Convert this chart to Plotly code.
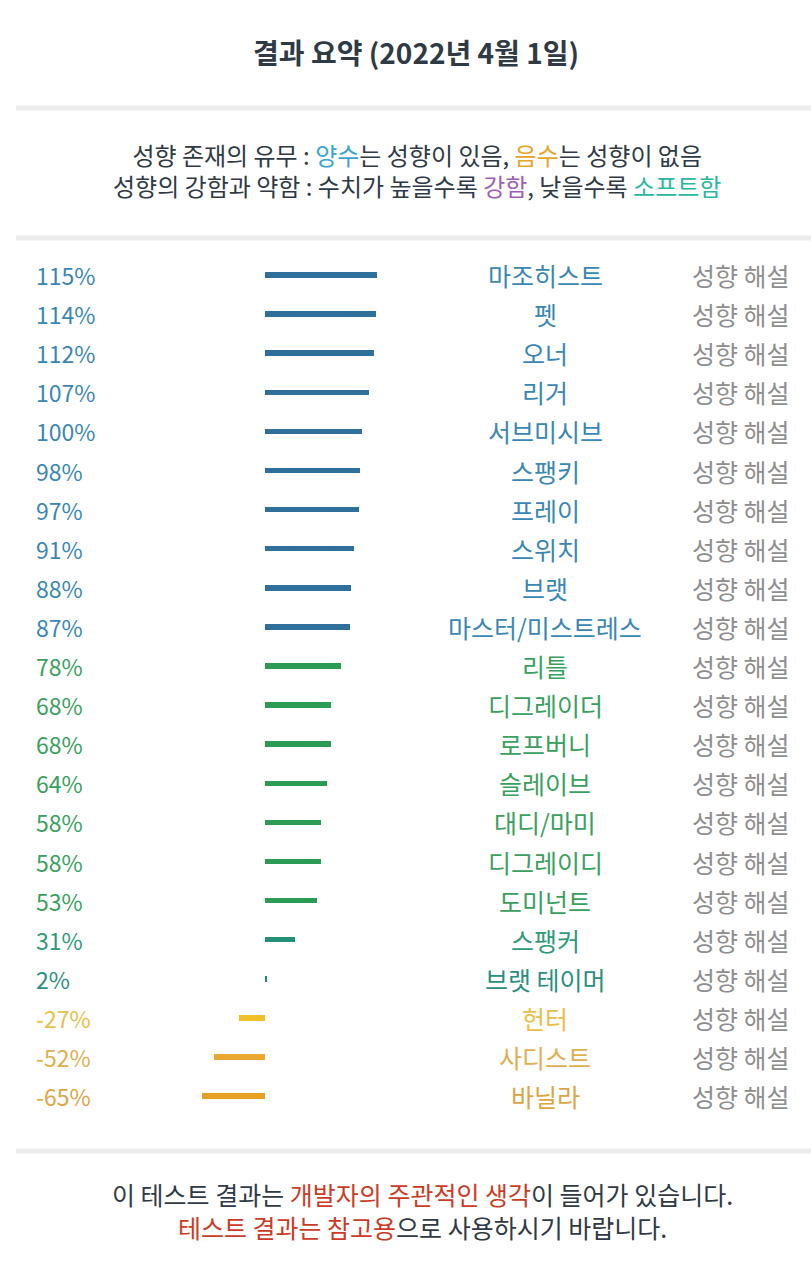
import plotly.graph_objects as go

names = ["마조히스트", "펫", "오너", "리거", "서브미시브", "스팽키", "프레이", "스위치", "브랫",
         "마스터/미스트레스", "리틀", "디그레이더", "로프버니", "슬레이브", "대디/마미", "디그레이디",
         "도미넌트", "스팽커", "브랫 테이머", "헌터", "사디스트", "바닐라"]
values = [115, 114, 112, 107, 100, 98, 97, 91, 88, 87, 78, 68, 68, 64, 58, 58, 53, 31, 2, -27, -52, -65]
link_label = "성향 해설"

W, H = 811, 1280
FONT = "Noto Sans CJK KR"

BLUE_BAR, BLUE_TXT = "#2f6f9c", "#3a87b3"
GREEN_BAR, GREEN_TXT = "#2c9c55", "#3aa060"

def colors(v):
    if v >= 80:
        return BLUE_BAR, BLUE_TXT
    if v >= 40:
        return GREEN_BAR, GREEN_TXT
    if v >= 20:
        return "#239078", "#2f9a7a"
    if v >= 0:
        return "#1f8a7c", "#2b8f80"
    if v >= -30:
        return "#f0c028", "#e8c048"
    if v >= -55:
        return "#e8a832", "#e0b050"
    return "#e6a024", "#dca545"

bar_cols = [colors(v)[0] for v in values]
txt_cols = [colors(v)[1] for v in values]
rows = list(range(len(names)))

# pixel mapping
ZERO_PX = 265
PX_PER = 0.974
ROW0_PX = 275
ROW_H = 39.1

x_range = [-ZERO_PX / PX_PER, (W - ZERO_PX) / PX_PER]
y_range = [(H - ROW0_PX) / ROW_H, -ROW0_PX / ROW_H]

fig = go.Figure()
fig.add_trace(go.Bar(
    x=values, y=rows, orientation="h", marker=dict(color=bar_cols, line=dict(width=0)),
    width=5.5 / ROW_H, hoverinfo="skip", showlegend=False,
))

def px2x(px):
    return px / W

def py2y(py):
    return 1 - py / H

ann = []
for i, (n, v) in enumerate(zip(names, values)):
    ann.append(dict(x=px2x(34), y=i, xref="paper", yref="y", text=f"{v}%", showarrow=False,
                    xanchor="left", yanchor="middle", font=dict(family=FONT, size=23, color=txt_cols[i])))
    ann.append(dict(x=px2x(545), y=i, xref="paper", yref="y", text=n, showarrow=False,
                    xanchor="center", yanchor="middle", font=dict(family=FONT, size=25, color=txt_cols[i])))
    ann.append(dict(x=px2x(741), y=i, xref="paper", yref="y", text=link_label, showarrow=False,
                    xanchor="center", yanchor="middle", font=dict(family=FONT, size=25, color="#8e8e8e")))

DARK = "#2f3a45"
RED = "#cc3b26"
ann.append(dict(x=px2x(416), y=py2y(52), xref="paper", yref="paper", showarrow=False,
                text="<b>결과 요약 (2022년 4월 1일)</b>", xanchor="center", yanchor="middle",
                font=dict(family=FONT, size=28, color=DARK)))
ann.append(dict(x=px2x(417), y=py2y(170), xref="paper", yref="paper", showarrow=False,
                text="성향 존재의 유무 : <span style='color:#3aa3cf'>양수</span>는 성향이 있음, "
                     "<span style='color:#e8a42a'>음수</span>는 성향이 없음<br>"
                     "성향의 강함과 약함 : 수치가 높을수록 <span style='color:#a05fb5'>강함</span>, "
                     "낮을수록 <span style='color:#2ab8a2'>소프트함</span>",
                xanchor="center", yanchor="middle", align="center",
                font=dict(family=FONT, size=24, color=DARK)))
ann.append(dict(x=px2x(422), y=py2y(1210), xref="paper", yref="paper", showarrow=False,
                text=f"이 테스트 결과는 <span style='color:{RED}'>개발자의 주관적인 생각</span>이 들어가 있습니다.<br>"
                     f"<span style='color:{RED}'>테스트 결과는 참고용</span>으로 사용하시기 바랍니다.",
                xanchor="center", yanchor="middle", align="center",
                font=dict(family=FONT, size=25, color=DARK)))

shapes = []
for py in [108, 238, 1151]:
    shapes.append(dict(type="line", xref="paper", yref="paper", x0=px2x(16), x1=1,
                       y0=py2y(py), y1=py2y(py), line=dict(color="#ececec", width=5)))

fig.update_layout(
    width=W, height=H, margin=dict(l=0, r=0, t=0, b=0),
    paper_bgcolor="white", plot_bgcolor="white",
    xaxis=dict(range=x_range, visible=False, fixedrange=True),
    yaxis=dict(range=y_range, visible=False, fixedrange=True),
    annotations=ann, shapes=shapes, bargap=0,
)

fig.write_html("out.html")
